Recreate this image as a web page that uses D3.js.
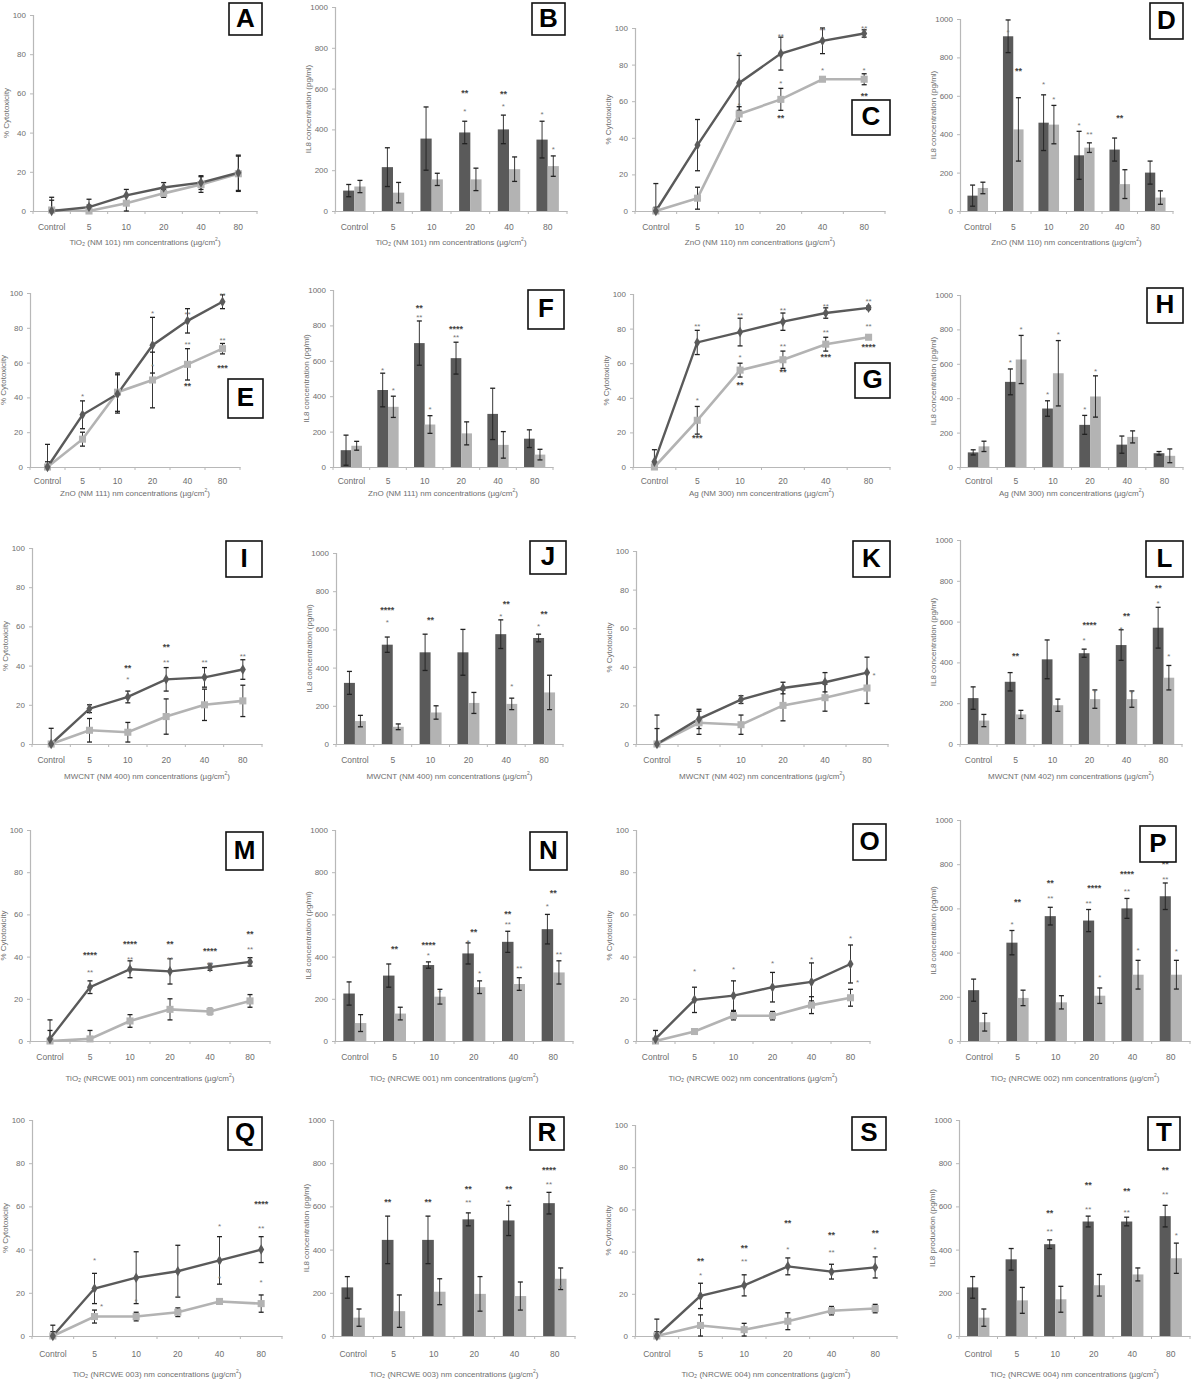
<!DOCTYPE html>
<html><head><meta charset="utf-8">
<script src="https://cdn.jsdelivr.net/npm/d3@7"></script>
<style>
body{margin:0;background:#fff;}
svg{display:block;font-family:"Liberation Sans",Arial,sans-serif;}
</style></head>
<body><svg id="c" width="1200" height="1383"></svg>
<script>
const cats = ["Control","5","10","20","40","80"];
const cytoTicks = [0,20,40,60,80,100];
const il8Ticks = [0,200,400,600,800,1000];

// A
const aDark=[0,2,8,12,14.5,19.5], aDarkErr=[7,4,3,2.5,3.5,9];
const aLight=[0.5,0,4,9,13.5,19], aLightErr=[5,3,4,2,4,9];
const aMarks=[];
// B
const bDark=[100,215,355,385,400,350], bDarkErr=[30,95,155,55,70,90];
const bLight=[120,90,155,155,205,220], bLightErr=[30,50,30,55,60,50];
const bMarks=[[3,'d',500,'*'],[3,'d',590,'**',1],[4,'d',525,'*'],[4,'d',585,'**',1],[5,'d',485,'*'],[5,'l',315,'*']];
// C
const cDark=[0,36,70,86,93,97], cDarkErr=[15,14,15,9,7,2];
const cLight=[0,7,53,61,72,72], cLightErr=[2,6,4,6,1,3];
const cMarks=[[2,'c',87,'*'],[3,'c',97,'**'],[4,'c',100,'**'],[5,'c',101,'**'],[2,'c',59,'*'],[3,'c',71,'*'],[4,'c',78,'*'],[5,'c',78,'*'],[3,'c',52,'**',1],[5,'c',64,'**',1]];
// D
const dDark=[80,910,460,290,320,200], dDarkErr=[55,85,145,125,60,60];
const dLight=[120,425,450,330,140,70], dLightErr=[30,165,100,25,75,35];
const dMarks=[[1,'d',943,'*'],[1,'l',743,'**',1],[2,'d',673,'*'],[2,'l',595,'*'],[3,'d',460,'*'],[3,'l',412,'**'],[4,'c',496,'**',1]];
// E
const eDark=[0,30,42,70,84,95], eDarkErr=[13,8,11,16,7,4];
const eLight=[0,16,43,50,59,68], eLightErr=[3,4,11,16,9,3];
const eMarks=[[1,'c',42,'*'],[3,'c',90,'*'],[4,'c',89,'**'],[5,'c',100,'**'],[3,'c',59,'*'],[4,'c',72,'**'],[5,'c',74,'**'],[4,'c',48,'**',1],[5,'c',58,'***',1]];
// F
const fDark=[95,435,700,615,300,160], fDarkErr=[85,95,125,90,145,50];
const fLight=[120,340,240,190,125,70], fLightErr=[25,60,50,65,75,30];
const fMarks=[[1,'d',562,'*'],[1,'l',449,'*'],[2,'d',858,'**'],[2,'d',909,'**',1],[2,'l',340,'*'],[3,'d',745,'**'],[3,'d',792,'****',1]];
// G
const gDark=[3,72,78,84,89,92], gDarkErr=[7,7,8,5,3,1];
const gLight=[0,27,56,62,71,75], gLightErr=[1,8,4,5,4,1];
const gMarks=[[1,'c',83,'**'],[2,'c',89,'**'],[3,'c',92,'**'],[4,'c',94.5,'**'],[5,'c',97,'**'],[1,'c',40,'*'],[2,'c',65,'*'],[3,'c',71,'**'],[4,'c',79,'**'],[5,'c',83,'**'],[1,'c',18,'***',1],[2,'c',49,'**',1],[3,'c',56,'**',1],[4,'c',65,'***',1],[5,'c',71,'****',1]];
// H
const hDark=[85,495,340,245,130,80], hDarkErr=[15,75,45,55,50,10];
const hLight=[120,625,545,410,175,65], hLightErr=[30,140,190,120,35,40];
const hMarks=[[1,'d',621,'*'],[1,'l',816,'*'],[2,'d',437,'*'],[2,'l',783,'*'],[3,'d',350,'*'],[3,'l',573,'*']];
// I
const iDark=[0,18,24,33,34,38], iDarkErr=[8,2,3,6,5,5];
const iLight=[0,7,6,14,20,22], iLightErr=[1,6,5,9,8,8];
const iMarks=[[2,'c',40,'**',1],[2,'c',34,'*'],[3,'c',50.5,'**',1],[3,'c',43,'**'],[4,'c',43,'**'],[5,'c',46,'**']];
// J
const jDark=[320,520,480,480,575,555], jDarkErr=[60,40,95,120,75,20];
const jLight=[120,90,165,215,210,270], jLightErr=[30,15,35,55,30,90];
const jMarks=[[1,'d',712,'****',1],[1,'d',649,'*'],[2,'c',660,'**',1],[4,'c',743,'**',1],[4,'d',680,'*'],[4,'l',314,'*'],[5,'c',691,'**',1],[5,'d',628,'*']];
// K
const kDark=[0,13,23,29,32,37], kDarkErr=[15,5,2,3,5,8];
const kLight=[0,11,10,20,24,29], kLightErr=[8,6,5,8,7,8];
const kMarks=[[5,'r',37,'*']];
// L
const lDark=[225,305,415,445,485,570], lDarkErr=[55,45,95,20,75,100];
const lLight=[115,145,190,220,220,325], lLightErr=[30,20,30,45,40,60];
const lMarks=[[1,'c',441,'**',1],[3,'c',593,'****',1],[3,'d',520,'*'],[3,'l',265,'*'],[4,'c',637,'**',1],[4,'d',573,'*'],[4,'l',260,'*'],[5,'d',774,'**',1],[5,'d',700,'*'],[5,'l',441,'*']];
// M
const mDark=[1,25.5,34,33,35,37.5], mDarkErr=[9,3,4,6,1.5,2];
const mLight=[0,1,9.5,15,14,19], mLightErr=[5,4,3,5,1.5,3];
const mMarks=[[1,'c',42,'****',1],[1,'c',33.6,'**'],[2,'c',47,'****',1],[2,'c',40,'**'],[3,'c',47,'**',1],[3,'c',40,'**'],[4,'c',44,'****',1],[4,'c',37.5,'**'],[5,'c',52,'**',1],[5,'c',44.5,'**']];
// N
const nDark=[225,310,360,415,470,530], nDarkErr=[55,55,15,50,50,70];
const nLight=[85,130,210,255,270,325], nLightErr=[40,30,35,30,30,55];
const nMarks=[[1,'c',445,'**',1],[2,'d',464,'****',1],[2,'d',417,'*'],[2,'l',242,'*'],[3,'c',526,'**',1],[3,'d',479,'*'],[3,'l',332,'*'],[4,'d',611,'**',1],[4,'d',564,'**'],[4,'l',355,'**'],[5,'c',711,'**',1],[5,'d',649,'*'],[5,'l',422,'**']];
// O
const oDark=[1,19.5,21.5,25.5,28,36.5], oDarkErr=[4,6,7,7,9,9];
const oLight=[0,4.5,12,12,17,20.5], oLightErr=[1,1,2,2,4,4];
const oMarks=[[1,'c',34,'*'],[2,'c',35,'*'],[3,'c',38,'*'],[4,'c',40,'*'],[5,'c',50,'*'],[5,'r',29,'*']];
// P
const pDark=[230,445,565,545,600,655], pDarkErr=[50,55,40,50,45,60];
const pLight=[85,195,175,205,300,300], pLightErr=[40,35,30,35,65,65];
const pMarks=[[1,'c',638,'**',1],[1,'d',538,'*'],[2,'d',724,'**',1],[2,'d',656,'**'],[3,'c',701,'****',1],[3,'d',633,'**'],[3,'l',299,'*'],[4,'d',765,'****',1],[4,'d',688,'**'],[4,'l',421,'*'],[5,'d',810,'**',1],[5,'d',742,'**'],[5,'l',416,'*']];
// Q
const qDark=[0,22,27,30,35,40], qDarkErr=[5,7,12,12,11,6];
const qLight=[0,9,9,11,16,15], qLightErr=[2,3,2,2,1,4];
const qMarks=[[1,'c',36,'*'],[1,'r',15,'*'],[2,'c',17,'*'],[3,'c',19,'*'],[4,'c',52,'*'],[4,'c',28,'*'],[5,'c',62,'****',1],[5,'c',51,'**'],[5,'c',26,'*']];
// R
const rDark=[225,445,445,540,535,615], rDarkErr=[50,110,110,30,70,50];
const rLight=[85,115,205,195,185,265], rLightErr=[40,75,60,80,65,50];
const rMarks=[[1,'d',630,'**',1],[2,'d',630,'**',1],[3,'d',690,'**',1],[3,'d',630,'**'],[4,'d',690,'**',1],[4,'d',630,'*'],[5,'d',778,'****',1],[5,'d',713,'**'],[5,'l',236,'*']];
// S
const sDark=[0,19,24,33,30.5,32.5], sDarkErr=[8,6,5,4,3.5,5];
const sLight=[0,5,3,7,12,13], sLightErr=[2,5,3,4,2,2];
const sMarks=[[1,'c',36.5,'**',1],[1,'c',30,'*'],[2,'c',43,'**',1],[2,'c',36.5,'**'],[3,'c',54.5,'**',1],[3,'c',42,'*'],[4,'c',49,'**',1],[4,'c',41,'**'],[5,'c',50,'**',1],[5,'c',42,'*']];
// T
const tDark=[225,355,425,530,530,555], tDarkErr=[50,50,20,25,20,50];
const tLight=[85,165,170,235,285,360], tLightErr=[40,60,60,50,30,70];
const tMarks=[[2,'d',579,'**',1],[2,'d',495,'**'],[3,'d',708,'**',1],[3,'d',597,'**'],[4,'d',680,'**',1],[4,'d',583,'**'],[5,'d',778,'**',1],[5,'d',667,'**'],[5,'l',477,'*']];

const yCyto = "% Cytotoxicity", yIL8 = "IL8 concentration (pg/ml)", yIL8p = "IL8 production (pg/ml)";
const xt = (m) => [m, " nm concentrations (\u00b5g/cm", "2", ")"];

// layout: [letter, type, x0, x1, yZero, yTop, box(x,y,w,h), tickY, titleY, material, ytitle, dark, darkErr, light, lightErr, marks]
const panels = [
 ["A","line",33,257,211,15,[229,3,33,32],228,243,"TiO\u2082 (NM 101)",yCyto,aDark,aDarkErr,aLight,aLightErr,aMarks],
 ["B","bar",335,567,211,7,[532,3,33,32],228,243,"TiO\u2082 (NM 101)",yIL8,bDark,bDarkErr,bLight,bLightErr,bMarks],
 ["C","line",635,885,211,28,[852,100,38,35],228,243,"ZnO (NM 110)",yCyto,cDark,cDarkErr,cLight,cLightErr,cMarks],
 ["D","bar",960,1173,211,19,[1150,3,33,36],228,243,"ZnO (NM 110)",yIL8,dDark,dDarkErr,dLight,dLightErr,dMarks],
 ["E","line",30,240,467,293,[228,379,35,39],482,494,"ZnO (NM 111)",yCyto,eDark,eDarkErr,eLight,eLightErr,eMarks],
 ["F","bar",333,553,467,290,[528,290,36,39],482,494,"ZnO (NM 111)",yIL8,fDark,fDarkErr,fLight,fLightErr,fMarks],
 ["G","line",633,890,467,294,[855,363,35,35],482,494,"Ag (NM 300)",yCyto,gDark,gDarkErr,gLight,gLightErr,gMarks],
 ["H","bar",960,1183,467,295,[1147,288,36,35],482,494,"Ag (NM 300)",yIL8,hDark,hDarkErr,hLight,hLightErr,hMarks],
 ["I","line",32,262,744,548,[226,541,36,36],761,777,"MWCNT (NM 400)",yCyto,iDark,iDarkErr,iLight,iLightErr,iMarks],
 ["J","bar",336,563,744,553,[530,541,36,33],761,777,"MWCNT (NM 400)",yIL8,jDark,jDarkErr,jLight,jLightErr,jMarks],
 ["K","line",636,888,744,551,[853,541,37,36],761,777,"MWCNT (NM 402)",yCyto,kDark,kDarkErr,kLight,kLightErr,kMarks],
 ["L","bar",960,1182,744,540,[1146,541,37,36],761,777,"MWCNT (NM 402)",yIL8,lDark,lDarkErr,lLight,lLightErr,lMarks],
 ["M","line",30,270,1041,830,[226,832,37,38],1058,1079,"TiO\u2082 (NRCWE 001)",yCyto,mDark,mDarkErr,mLight,mLightErr,mMarks],
 ["N","bar",335,573,1041,830,[530,832,37,38],1058,1079,"TiO\u2082 (NRCWE 001)",yIL8,nDark,nDarkErr,nLight,nLightErr,nMarks],
 ["O","line",636,870,1041,830,[853,824,33,36],1058,1079,"TiO\u2082 (NRCWE 002)",yCyto,oDark,oDarkErr,oLight,oLightErr,oMarks],
 ["P","bar",960,1190,1041,820,[1140,826,36,36],1058,1079,"TiO\u2082 (NRCWE 002)",yIL8,pDark,pDarkErr,pLight,pLightErr,pMarks],
 ["Q","line",32,282,1336,1120,[228,1117,34,33],1355,1375,"TiO\u2082 (NRCWE 003)",yCyto,qDark,qDarkErr,qLight,qLightErr,qMarks],
 ["R","bar",333,575,1336,1120,[530,1117,34,33],1355,1375,"TiO\u2082 (NRCWE 003)",yIL8,rDark,rDarkErr,rLight,rLightErr,rMarks],
 ["S","line",635,897,1336,1125,[852,1117,34,33],1355,1375,"TiO\u2082 (NRCWE 004)",yCyto,sDark,sDarkErr,sLight,sLightErr,sMarks],
 ["T","bar",959,1190,1336,1120,[1148,1117,32,33],1355,1375,"TiO\u2082 (NRCWE 004)",yIL8p,tDark,tDarkErr,tLight,tLightErr,tMarks]
];

const svg = d3.select("#c");
const DARK="#5a5a5a", LIGHT="#b3b3b3", AXIS="#b8b8b8", TXT="#6e6e6e";
const FONT = "Liberation Sans Narrow, Liberation Sans, Arial";

panels.forEach(p => {
  const [letter,type,x0,x1,y0,yT,box,tickY,titleY,mat,ytitle,dark,darkErr,light,lightErr,marks] = p;
  const isLine = type==="line";
  const max = isLine?100:1000;
  const ticks = isLine?cytoTicks:il8Ticks;
  const x = d3.scaleBand().domain(cats).range([x0,x1]);
  const y = d3.scaleLinear().domain([0,max]).range([y0,yT]);
  const g = svg.append("g");
  const bw = x.bandwidth();

  // y axis
  const ya = g.append("g").attr("transform",`translate(${x0},0)`)
    .call(d3.axisLeft(y).tickValues(ticks).tickFormat(d3.format("d")).tickSize(3).tickPadding(4));
  ya.select(".domain").attr("stroke",AXIS).attr("stroke-width",1.2);
  ya.selectAll(".tick line").attr("stroke",AXIS);
  ya.selectAll(".tick text").attr("fill",TXT).attr("font-size",8).attr("font-family",FONT);
  // x axis
  const xa = g.append("g").attr("transform",`translate(0,${y0})`).call(d3.axisBottom(x).tickSize(0).tickFormat(""));
  xa.select(".domain").attr("stroke",AXIS).attr("stroke-width",1.2);
  const bounds = d3.range(7).map(i=>x0+i*bw);
  g.selectAll(".xt").data(bounds).join("line").attr("x1",d=>d).attr("x2",d=>d).attr("y1",y0).attr("y2",y0+3).attr("stroke",AXIS);
  g.selectAll(".xl").data(cats).join("text").attr("x",d=>x(d)+bw/2).attr("y",tickY).attr("text-anchor","middle")
    .attr("dominant-baseline","middle").attr("font-size",8.5).attr("fill",TXT).attr("font-family",FONT).text(d=>d);
  // x title
  const tt = xt(mat);
  const xtEl = g.append("text").attr("x",(x0+x1)/2).attr("y",titleY).attr("text-anchor","middle").attr("dominant-baseline","middle")
    .attr("font-size",8).attr("fill",TXT).attr("font-family",FONT);
  xtEl.append("tspan").text(tt[0]+tt[1]);
  xtEl.append("tspan").attr("font-size",5).attr("dy",-3).text(tt[2]);
  xtEl.append("tspan").attr("dy",3).text(tt[3]);
  // y title
  g.append("text").attr("transform",`translate(${x0-26},${(y0+yT)/2}) rotate(-90)`).attr("text-anchor","middle").attr("dominant-baseline","middle")
    .attr("font-size",8).attr("fill",TXT).attr("font-family",FONT).text(ytitle);

  const cx = (i) => x(cats[i])+bw/2;
  const barW = bw*0.29;
  const capW = 2.5;
  const errBar = (gx, v, e) => {
    g.append("line").attr("x1",gx).attr("x2",gx).attr("y1",y(Math.max(0,v-e))).attr("y2",y(v+e)).attr("stroke","#222").attr("stroke-width",0.9);
    [v+e, Math.max(0,v-e)].forEach(vv=>g.append("line").attr("x1",gx-capW).attr("x2",gx+capW).attr("y1",y(vv)).attr("y2",y(vv)).attr("stroke","#222").attr("stroke-width",1.3));
  };

  if (isLine) {
    const line = d3.line().x((d,i)=>cx(i)).y(d=>y(d));
    g.append("path").datum(light).attr("d",line).attr("fill","none").attr("stroke",LIGHT).attr("stroke-width",2.6);
    g.append("path").datum(dark).attr("d",line).attr("fill","none").attr("stroke",DARK).attr("stroke-width",2.4);
    light.forEach((v,i)=>errBar(cx(i),v,lightErr[i]));
    dark.forEach((v,i)=>errBar(cx(i),v,darkErr[i]));
    g.selectAll(".sq").data(light).join("path").attr("transform",(d,i)=>`translate(${cx(i)},${y(d)})`)
      .attr("d",d3.symbol(d3.symbolSquare,50)).attr("fill",LIGHT);
    g.selectAll(".dm").data(dark).join("path").attr("transform",(d,i)=>`translate(${cx(i)},${y(d)})`)
      .attr("d",d3.symbol(d3.symbolDiamond,32)).attr("fill",DARK);
  } else {
    g.selectAll(".bd").data(dark).join("rect").attr("x",(d,i)=>cx(i)-barW).attr("width",barW).attr("y",d=>y(d)).attr("height",d=>y0-y(d)).attr("fill",DARK);
    g.selectAll(".bl").data(light).join("rect").attr("x",(d,i)=>cx(i)).attr("width",barW).attr("y",d=>y(d)).attr("height",d=>y0-y(d)).attr("fill",LIGHT);
    dark.forEach((v,i)=>errBar(cx(i)-barW/2,v,darkErr[i]));
    light.forEach((v,i)=>errBar(cx(i)+barW/2,v,lightErr[i]));
  }
  // significance marks
  marks.forEach(m=>{
    const [i,s,v,txt,bold]=m;
    let px = cx(i);
    if (s==='d') px -= barW/2;
    if (s==='l') px += barW/2;
    if (s==='r') px += 7;
    g.append("text").attr("x",px).attr("y",y(v)+3).attr("text-anchor","middle").attr("dominant-baseline","middle")
      .attr("font-size",bold?9:8).attr("font-weight",bold?"bold":"normal").attr("fill",bold?"#444":"#777").text(txt);
  });
  // label box
  g.append("rect").attr("x",box[0]).attr("y",box[1]).attr("width",box[2]).attr("height",box[3]).attr("fill","#fff").attr("stroke","#111").attr("stroke-width",1.6);
  g.append("text").attr("x",box[0]+box[2]/2).attr("y",box[1]+box[3]/2+1).attr("text-anchor","middle").attr("dominant-baseline","middle")
    .attr("font-family","Liberation Sans, Arial").attr("font-weight","bold").attr("font-size",26).attr("fill","#000").text(letter);
});
</script>
</body></html>
